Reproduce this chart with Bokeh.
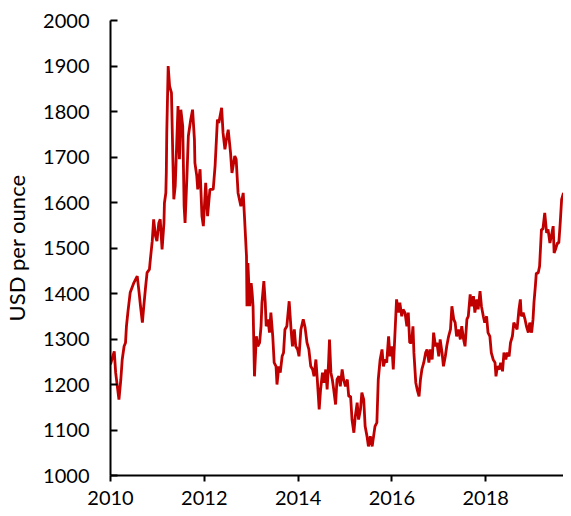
from bokeh.plotting import figure
from bokeh.models import FixedTicker, Range1d
from bokeh.embed import file_html
from bokeh.resources import INLINE

# decimal years (offset from 2010) and gold price, USD per ounce
year_offset = [
    0.00, 0.08, 0.11, 0.18, 0.22, 0.25, 0.29, 0.32, 0.34, 0.37, 0.42, 0.47, 0.50, 0.57, 0.61, 0.64, 0.68, 0.71,
    0.75, 0.78, 0.83, 0.85, 0.89, 0.92, 0.96, 0.99, 1.03, 1.06, 1.10, 1.14, 1.15, 1.18, 1.19, 1.20, 1.23, 1.26,
    1.30, 1.33, 1.35, 1.38, 1.42, 1.44, 1.47, 1.50, 1.54, 1.57, 1.59, 1.63, 1.66, 1.71, 1.75, 1.79, 1.80, 1.84,
    1.86, 1.91, 1.95, 1.98, 2.03, 2.07, 2.12, 2.19, 2.23, 2.28, 2.31, 2.37, 2.40, 2.44, 2.47, 2.51, 2.56, 2.59,
    2.65, 2.68, 2.72, 2.78, 2.83, 2.86, 2.90, 2.91, 2.93, 2.97, 3.00, 3.02, 3.04, 3.07, 3.11, 3.14, 3.18, 3.21,
    3.23, 3.27, 3.30, 3.32, 3.36, 3.39, 3.42, 3.46, 3.49, 3.53, 3.55, 3.59, 3.62, 3.66, 3.69, 3.72, 3.76, 3.81,
    3.85, 3.88, 3.92, 3.95, 3.99, 4.02, 4.06, 4.11, 4.15, 4.19, 4.23, 4.27, 4.31, 4.34, 4.38, 4.41, 4.45, 4.48,
    4.52, 4.55, 4.59, 4.62, 4.65, 4.67, 4.70, 4.73, 4.76, 4.80, 4.83, 4.87, 4.90, 4.94, 4.97, 5.01, 5.05, 5.08,
    5.12, 5.15, 5.19, 5.22, 5.26, 5.29, 5.33, 5.36, 5.40, 5.43, 5.47, 5.50, 5.54, 5.58, 5.61, 5.64, 5.68, 5.71,
    5.75, 5.79, 5.82, 5.86, 5.89, 5.93, 5.96, 6.00, 6.03, 6.07, 6.10, 6.14, 6.17, 6.21, 6.24, 6.28, 6.32, 6.35,
    6.38, 6.42, 6.45, 6.47, 6.51, 6.54, 6.58, 6.61, 6.64, 6.68, 6.72, 6.75, 6.79, 6.82, 6.86, 6.89, 6.93, 6.96,
    7.00, 7.03, 7.07, 7.10, 7.14, 7.17, 7.21, 7.25, 7.28, 7.32, 7.35, 7.38, 7.42, 7.46, 7.49, 7.53, 7.56, 7.60,
    7.63, 7.67, 7.70, 7.74, 7.77, 7.81, 7.84, 7.88, 7.91, 7.95, 7.98, 8.02, 8.05, 8.09, 8.12, 8.16, 8.20, 8.22,
    8.25, 8.29, 8.32, 8.36, 8.39, 8.43, 8.46, 8.50, 8.53, 8.57, 8.60, 8.64, 8.67, 8.71, 8.74, 8.76, 8.80, 8.84,
    8.87, 8.91, 8.94, 8.98, 9.01, 9.03, 9.06, 9.08, 9.12, 9.15, 9.19, 9.22, 9.26, 9.30, 9.33, 9.37, 9.40, 9.44,
    9.46, 9.49, 9.53, 9.56, 9.59, 9.62, 9.66,
]
price_usd = [
    1244, 1273, 1226, 1167, 1211, 1255, 1284, 1292, 1328, 1358, 1402, 1416, 1424, 1438, 1402, 1372, 1336, 1372,
    1416, 1446, 1453, 1475, 1515, 1563, 1526, 1515, 1555, 1563, 1497, 1555, 1599, 1621, 1665, 1754, 1900, 1856,
    1841, 1695, 1607, 1636, 1754, 1812, 1695, 1804, 1768, 1592, 1555, 1658, 1746, 1782, 1804, 1738, 1687, 1658,
    1629, 1673, 1570, 1548, 1643, 1570, 1629, 1629, 1680, 1782, 1775, 1808, 1753, 1717, 1738, 1760, 1709, 1665,
    1702, 1695, 1621, 1592, 1621, 1563, 1482, 1372, 1467, 1372, 1423, 1402, 1372, 1218, 1306, 1284, 1292, 1328,
    1380, 1427, 1380, 1328, 1343, 1314, 1358, 1306, 1248, 1240, 1200, 1240, 1226, 1262, 1270, 1321, 1328, 1383,
    1321, 1284, 1321, 1284, 1277, 1262, 1321, 1343, 1325, 1292, 1277, 1240, 1233, 1218, 1255, 1211, 1145, 1189,
    1226, 1204, 1233, 1189, 1248, 1299, 1226, 1211, 1189, 1156, 1211, 1218, 1196, 1233, 1211, 1196, 1211, 1174,
    1174, 1123, 1094, 1130, 1160, 1123, 1145, 1182, 1167, 1108, 1086, 1064, 1086, 1064, 1086, 1108, 1116, 1211,
    1255, 1277, 1240, 1255, 1248, 1306, 1262, 1284, 1233, 1321, 1387, 1358, 1380, 1350, 1365, 1358, 1328, 1358,
    1292, 1292, 1328, 1270, 1204, 1189, 1174, 1211, 1233, 1248, 1270, 1277, 1248, 1277, 1255, 1314, 1284, 1292,
    1262, 1299, 1270, 1240, 1262, 1284, 1306, 1321, 1372, 1343, 1336, 1306, 1321, 1299, 1328, 1299, 1284, 1343,
    1350, 1398, 1372, 1394, 1358, 1387, 1365, 1405, 1372, 1350, 1336, 1350, 1314, 1306, 1270, 1255, 1248, 1218,
    1240, 1233, 1248, 1229, 1270, 1255, 1270, 1262, 1292, 1306, 1336, 1328, 1321, 1365, 1387, 1350, 1358, 1343,
    1328, 1314, 1336, 1314, 1343, 1380, 1416, 1445, 1445, 1460, 1541, 1541, 1577, 1533, 1541, 1511, 1526, 1548,
    1489, 1497, 1511, 1511, 1555, 1607, 1621,
]
x_ticks = [2010, 2012, 2014, 2016, 2018]
y_ticks = [1000, 1100, 1200, 1300, 1400, 1500, 1600, 1700, 1800, 1900, 2000]
y_title = "USD per ounce"

years = [2010 + v for v in year_offset]

FONT = "Lato"

p = figure(width=563, height=508, output_backend="svg", toolbar_location=None,
           x_range=Range1d(2010, 2019.66), y_range=Range1d(1000, 2000),
           min_border_left=109, min_border_right=0, min_border_top=20, min_border_bottom=33)

p.line(years, price_usd, line_width=2.8, color="#C00000")

p.outline_line_color = None
p.xgrid.visible = False
p.ygrid.visible = False
p.background_fill_color = "white"
p.border_fill_color = "white"

for ax in (p.xaxis[0], p.yaxis[0]):
    ax.axis_line_color = "black"
    ax.axis_line_width = 2
    ax.major_tick_line_color = "black"
    ax.major_tick_line_width = 2
    ax.minor_tick_line_color = None
    ax.major_label_text_font = FONT
    ax.major_label_text_font_size = "20px"
    ax.major_label_text_color = "black"
    ax.axis_label_text_font = FONT
    ax.axis_label_text_font_size = "22px"
    ax.axis_label_text_font_style = "normal"
    ax.axis_label_text_color = "black"

p.xaxis.ticker = FixedTicker(ticks=x_ticks)
p.yaxis.ticker = FixedTicker(ticks=y_ticks)
p.xaxis.major_tick_in = 0
p.xaxis.major_tick_out = 6
p.xaxis.major_label_standoff = 9
p.yaxis.major_tick_in = 7
p.yaxis.major_tick_out = 0
p.yaxis.major_label_standoff = 21
p.yaxis.axis_label = y_title
p.yaxis.axis_label_standoff = 10

open("out.html", "w").write(file_html(p, INLINE))
